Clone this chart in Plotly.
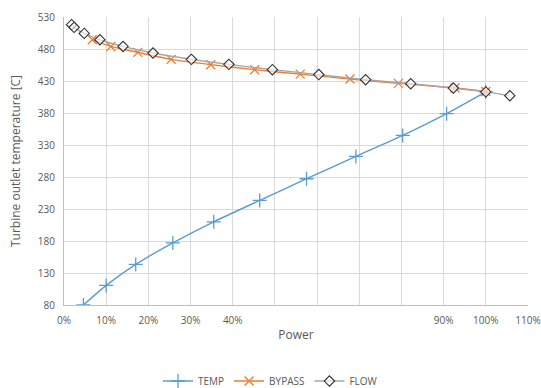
import plotly.graph_objects as go

# Power (%) and turbine outlet temperature (C) for each control strategy
temp_power = [4.6, 10.0, 17.0, 25.8, 35.5, 46.4, 57.5, 69.2, 80.3, 90.7, 100.0]
temp_values = [80, 110.6, 143.4, 177, 210, 243.4, 277.3, 312.2, 345, 379, 413]

bypass_power = [6.7, 11.1, 17.5, 25.4, 34.8, 45.2, 56.0, 67.8, 79.3, 92.7, 100.0]
bypass_values = [494.5, 484, 474.7, 463.8, 455.5, 447.7, 440.7, 433, 426.3, 419, 413.5]

flow_power = [1.8, 2.4, 4.8, 8.5, 14.0, 21.1, 30.2, 39.1, 49.4, 60.4, 71.5, 82.2, 92.3, 100.0, 105.7]
flow_values = [518, 513.8, 504.4, 494.5, 484, 473.7, 463.8, 456, 447.7, 440, 432, 425.8, 419, 413, 407]

x_ticks = [0, 10, 20, 30, 40, 50, 60, 70, 80, 90, 100, 110]
x_labels = ["0%", "10%", "20%", "30%", "40%", "", "", "", "", "90%", "100%", "110%"]
y_ticks = [80, 130, 180, 230, 280, 330, 380, 430, 480, 530]

text_color = "#595959"
grid_color = "#d9d9d9"
font_family = "Open Sans, Liberation Sans, sans-serif"

fig = go.Figure()
fig.add_trace(go.Scatter(
    x=temp_power, y=temp_values, name="TEMP", mode="lines+markers",
    line=dict(color="#5b9bd5", width=1.4, shape="spline", smoothing=0.6),
    marker=dict(symbol="cross-thin", size=10, line=dict(color="#5b9bd5", width=1.3)),
))
fig.add_trace(go.Scatter(
    x=bypass_power, y=bypass_values, name="BYPASS", mode="lines+markers",
    line=dict(color="#ed7d31", width=1.4, shape="spline", smoothing=0.6),
    marker=dict(symbol="x-thin", size=9, line=dict(color="#ed7d31", width=1.3)),
))
fig.add_trace(go.Scatter(
    x=flow_power, y=flow_values, name="FLOW", mode="lines+markers",
    line=dict(color="#a5a5a5", width=1.4, shape="spline", smoothing=0.6),
    marker=dict(symbol="diamond", size=8, color="rgba(255,255,255,0.6)",
                line=dict(color="#303030", width=1.1)),
))

fig.update_layout(
    width=541, height=388,
    margin=dict(l=64, r=13, t=17, b=83, autoexpand=False),
    paper_bgcolor="white", plot_bgcolor="white",
    font=dict(family=font_family, size=10, color=text_color),
    showlegend=True,
    legend=dict(orientation="h", xref="container", yref="container",
                x=0.5, xanchor="center", y=0.018, yanchor="middle",
                font=dict(size=10, color=text_color), itemwidth=30),
)
fig.update_xaxes(
    range=[0, 110], tickvals=x_ticks, ticktext=x_labels,
    showgrid=True, gridcolor=grid_color, gridwidth=1,
    showline=True, linecolor="#bfbfbf", linewidth=1,
    ticks="", zeroline=False, automargin=False, ticklabelstandoff=6,
    title=dict(text="Power", font=dict(size=12, color=text_color), standoff=4),
)
fig.update_yaxes(
    range=[80, 530], tickvals=y_ticks,
    showgrid=True, gridcolor=grid_color, gridwidth=1,
    showline=True, linecolor="#bfbfbf", linewidth=1,
    ticks="", zeroline=False, automargin=False, ticklabelstandoff=6,
    title=dict(text="Turbine outlet temperature [C]", font=dict(size=12, color=text_color), standoff=14),
)

fig.write_html("out.html")
